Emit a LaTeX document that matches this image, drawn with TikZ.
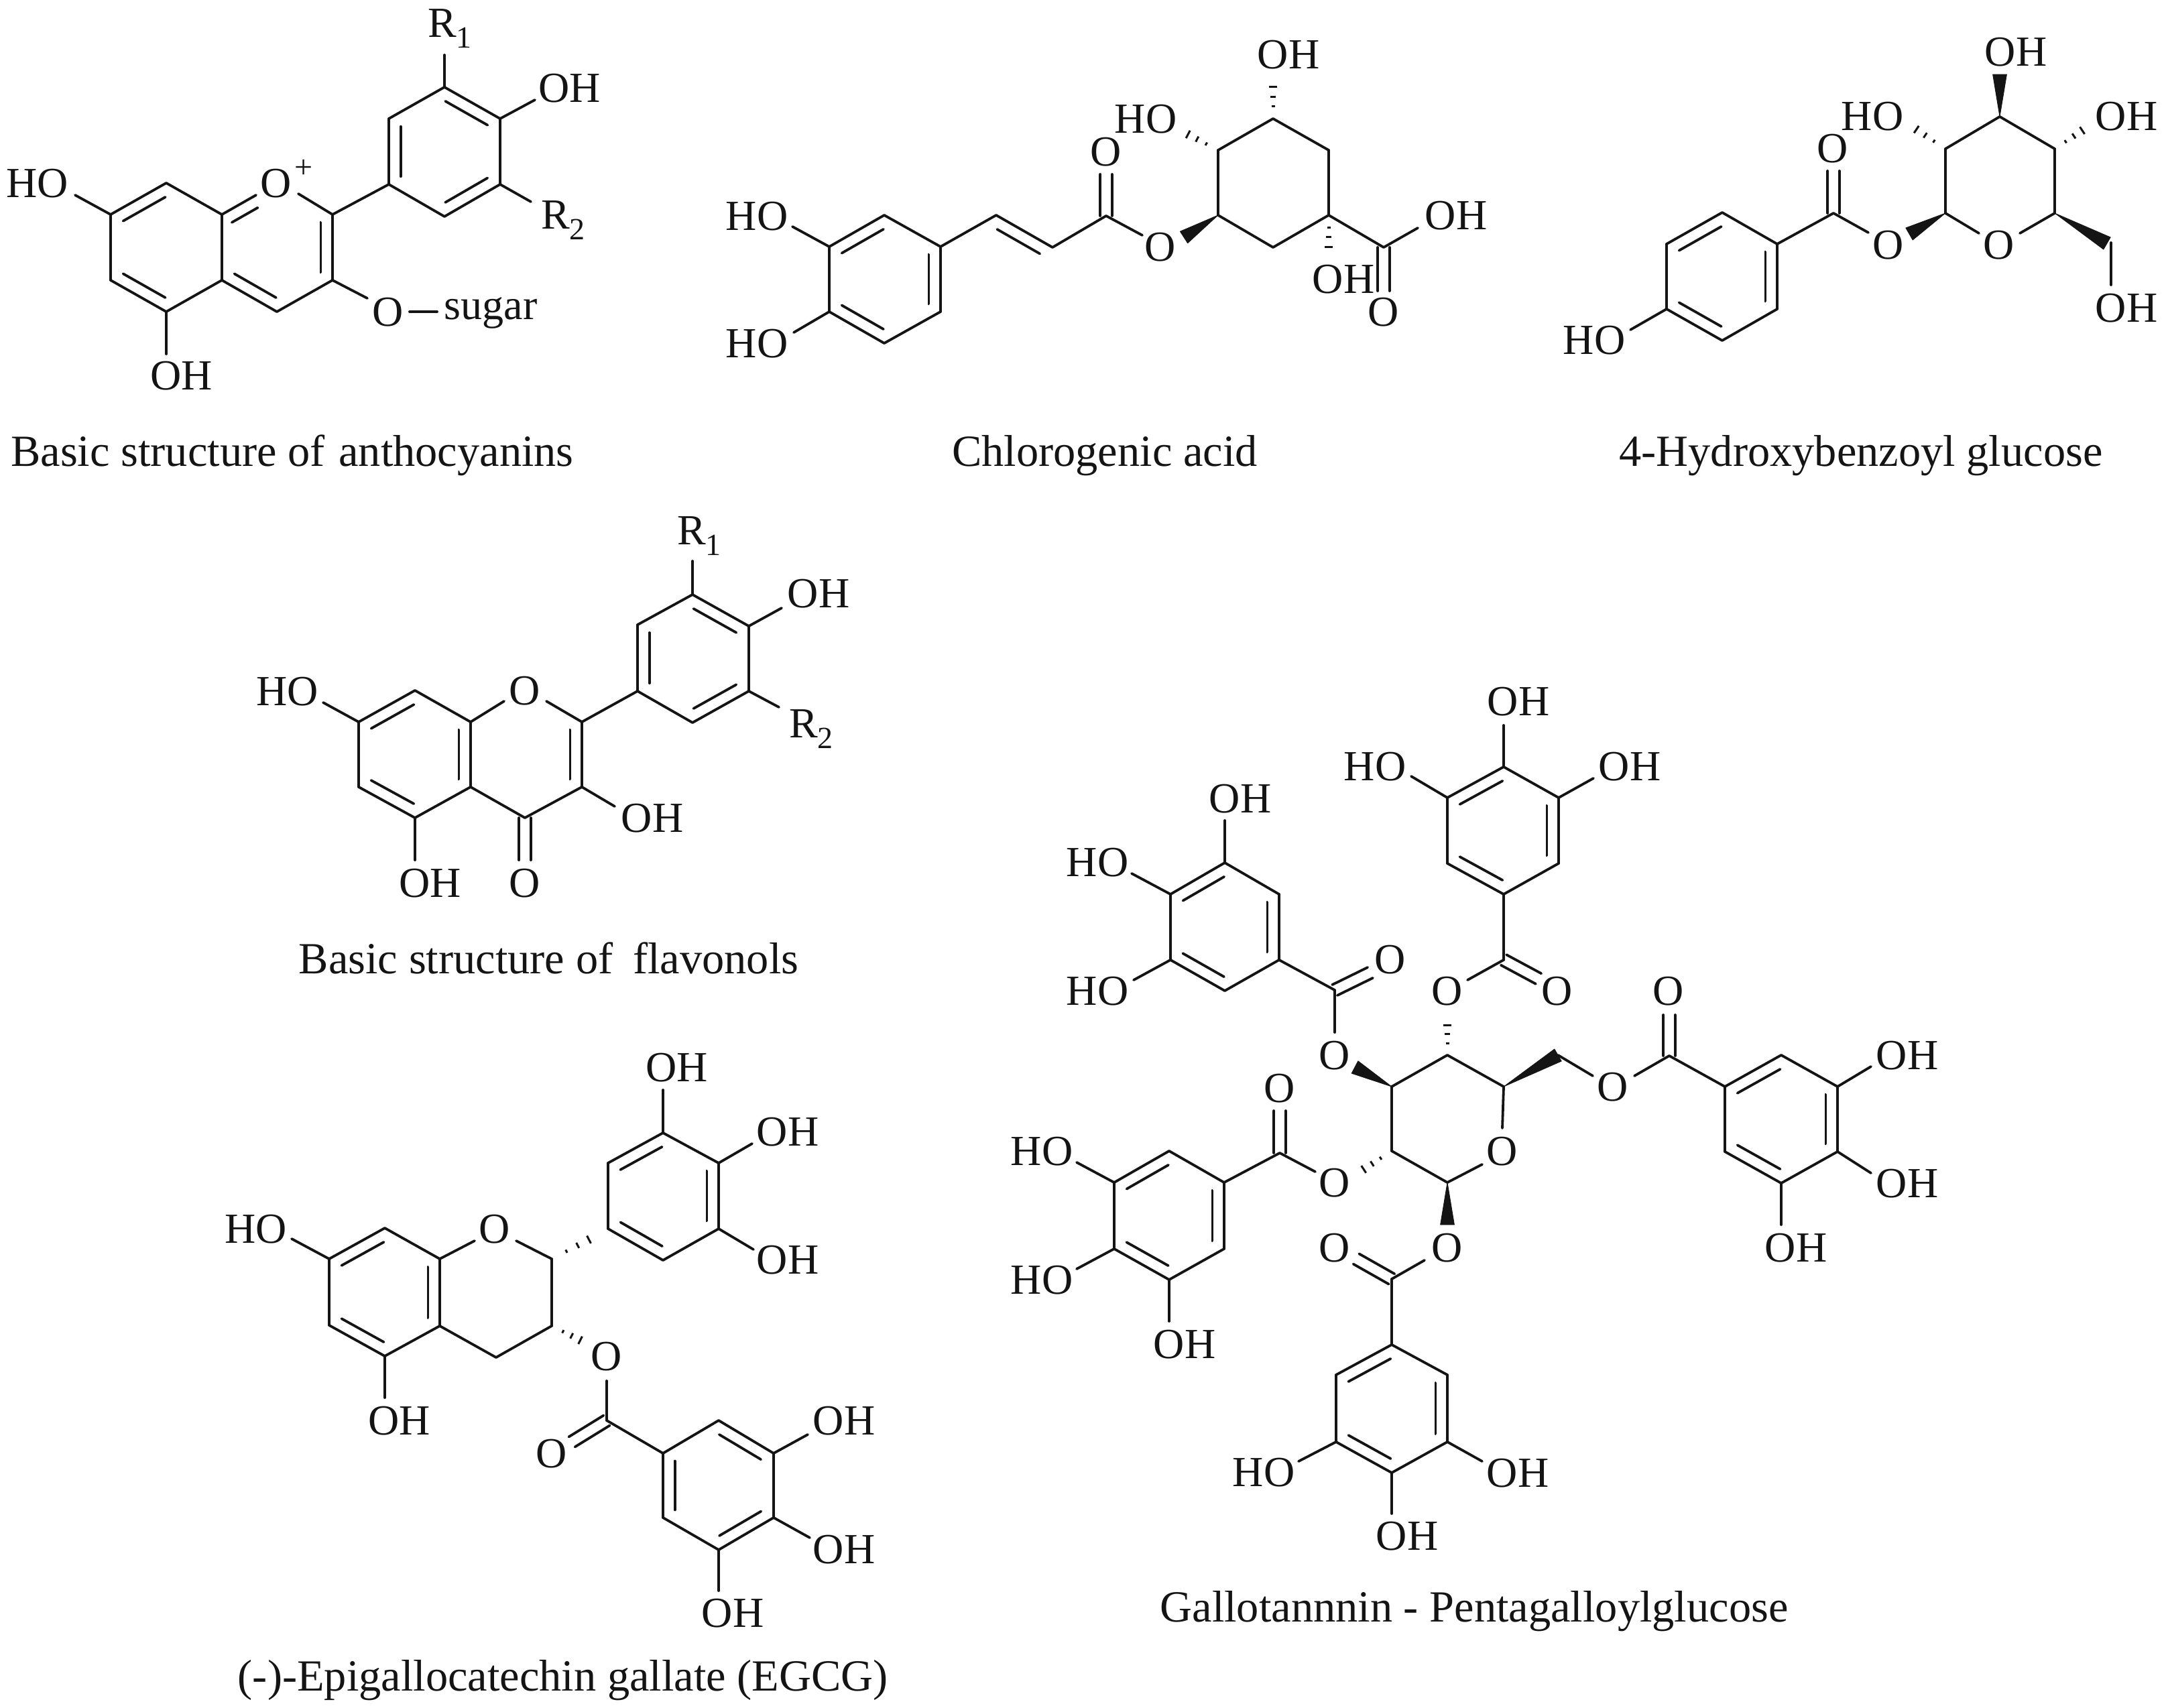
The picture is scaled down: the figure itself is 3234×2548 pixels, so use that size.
\documentclass[tikz,border=0pt]{standalone}
\usepackage{fontspec}
\setmainfont{Liberation Serif}
\usetikzlibrary{calc}
\definecolor{ink}{gray}{0.08}
\tikzset{
 bond/.style={draw=ink,line width=0.95pt,line cap=round,line join=round},
 hashline/.style={draw=ink,line width=0.75pt},
 wedgefill/.style={fill=ink,draw=ink,line width=0.2pt,line join=round},
 atomlabel/.style={anchor=base,inner sep=0pt,outer sep=0pt,yshift=-5.3pt,text=ink,font=\fontsize{16}{18}\selectfont},
 captionlabel/.style={anchor=base,inner sep=0pt,outer sep=0pt,yshift=-5.5pt,text=ink,font=\fontsize{16.6}{19}\selectfont},
}
\newcommand{\kc}[3]{\coordinate (#1) at (#2,#3);}
\newcommand{\kl}[4]{\node[atomlabel] (#1) at (#2,#3) {#4};}
\newcommand{\ks}[2]{\draw[bond] (#1) -- (#2);}
\newcommand{\kt}[6]{\coordinate (#1end) at (#2,#3);\draw[bond] (#1) -- (#1end);\node[atomlabel] (#1lab) at (#4,#5) {#6};}
\newcommand{\kd}[2]{\draw[bond] (#1) -- (#2);\draw[bond] ($(#1)!.12!(#2)!4.4pt!90:(#2)$) -- ($(#2)!.12!(#1)!4.4pt!-90:(#1)$);}
\newcommand{\ke}[2]{\draw[bond] ($(#1)!2.2pt!90:(#2)$) -- ($(#2)!2.2pt!-90:(#1)$);\draw[bond] ($(#1)!2.2pt!-90:(#2)$) -- ($(#2)!2.2pt!90:(#1)$);}
\newcommand{\kw}[2]{\fill[wedgefill] (#1) -- ($(#2)!2.6pt!90:(#1)$) -- ($(#2)!2.6pt!-90:(#1)$) -- cycle;}
\newcommand{\kh}[2]{\foreach \t in {.3,.53,.76,1}{\pgfmathsetmacro{\w}{\t*2.1}\draw[hashline] ($(#1)!\t!(#2)!\w pt!90:(#2)$) -- ($(#1)!\t!(#2)!\w pt!-90:(#2)$);}}
\newcommand{\subn}[1]{\raisebox{-4pt}{\fontsize{11.5}{12}\selectfont #1}}
\begin{document}
\begin{tikzpicture}[x=0.25pt,y=-0.25pt]
\useasboundingbox (0,0) rectangle (3234,2548);
\fill[white] (0,0) rectangle (3234,2548);

% ---------- Anthocyanins
\kc{A7}{165}{320}\kc{A8}{248}{273}\kc{A9}{331}{320}\kc{A2}{496}{320}\kc{A3}{496}{418}
\kc{A4}{413}{465}\kc{A10}{331}{418}\kc{A5}{248}{465}\kc{A6}{165}{418}
\kc{Ab1}{580}{275}\kc{Ab2}{580}{177}\kc{Ab3}{663}{130}\kc{Ab4}{746}{177}\kc{Ab5}{746}{275}\kc{Ab6}{663}{323}
\kc{AOa}{382}{291}\kc{AOb}{445}{289}
\kl{AO}{412}{273}{O}
\node[text=ink,inner sep=0pt,font=\fontsize{12}{12}\selectfont] (Aplus) at (453,252) {+};
\kd{A8}{A7}\ks{A7}{A6}\kd{A6}{A5}\ks{A5}{A10}\ks{A10}{A9}\ks{A9}{A8}
\kd{AOa}{A9}\ks{AOb}{A2}\kd{A3}{A2}\ks{A4}{A3}\kd{A10}{A4}
\ks{A2}{Ab1}\kd{Ab2}{Ab1}\ks{Ab1}{Ab6}\kd{Ab6}{Ab5}\ks{Ab5}{Ab4}\kd{Ab4}{Ab3}\ks{Ab3}{Ab2}
\kt{A7}{112}{291}{56}{273}{HO}
\kt{A5}{248}{528}{270.5}{560}{OH}
\kt{A3}{548}{445}{579}{465}{O}
\kc{ASa}{611}{465}\kc{ASb}{652}{465}\ks{ASa}{ASb}
\kl{Asugar}{732}{455}{sugar}
\kt{Ab3}{663}{82}{671}{34}{R\subn{1}}
\kt{Ab4}{798}{149}{850}{131}{OH}
\kt{Ab5}{792}{301}{840}{320}{R\subn{2}}
\node[captionlabel] (Acap) at (436,673) {Basic structure of\hspace{.06em} anthocyanins};

% ---------- Chlorogenic acid
\kc{Ba1}{1403}{368}\kc{Ba2}{1319}{321}\kc{Ba3}{1237}{368}\kc{Ba4}{1237}{465}\kc{Ba5}{1319}{512}\kc{Ba6}{1403}{465}
\kd{Ba2}{Ba3}\ks{Ba3}{Ba4}\kd{Ba4}{Ba5}\ks{Ba5}{Ba6}\kd{Ba6}{Ba1}\ks{Ba1}{Ba2}
\kt{Ba3}{1182}{338}{1129}{322}{HO}
\kt{Ba4}{1184}{496}{1129}{512}{HO}
\kc{Bv1}{1486}{321}\kc{Bv2}{1570}{369}\kc{Bc}{1650}{322}
\ks{Ba1}{Bv1}\kd{Bv2}{Bv1}\ks{Bv2}{Bc}
\kc{Bce}{1650}{260}\ke{Bc}{Bce}\kl{BcO}{1650}{226}{O}
\kt{Bc}{1704}{351}{1731}{368}{O}
\kc{BQ1}{1817}{321}\kc{BQ2}{1817}{224}\kc{BQ3}{1899}{177}\kc{BQ4}{1982}{224}\kc{BQ5}{1982}{321}\kc{BQ6}{1899}{369}
\ks{BQ1}{BQ2}\ks{BQ2}{BQ3}\ks{BQ3}{BQ4}\ks{BQ4}{BQ5}\ks{BQ5}{BQ6}\ks{BQ6}{BQ1}
\kc{BWb}{1766}{354}\kw{BQ1}{BWb}
\kc{BH3}{1899}{115}\kh{BQ3}{BH3}\kl{BOH3}{1922}{81}{OH}
\kc{BH2}{1758}{193}\kh{BQ2}{BH2}\kl{BOH2}{1709}{177}{HO}
\kc{BH5}{1982}{383}\kh{BQ5}{BH5}\kl{BOH5}{2004}{416}{OH}
\kc{BC}{2064}{369}\ks{BQ5}{BC}
\kc{BCe}{2064}{434}\ke{BC}{BCe}\kl{BCO}{2064}{465}{O}
\kt{BC}{2115}{340}{2172}{321}{OH}
\node[captionlabel] (Bcap) at (1648,673) {Chlorogenic acid};

% ---------- 4-Hydroxybenzoyl glucose
\kc{Cp1}{2651}{364}\kc{Cp2}{2569}{317}\kc{Cp3}{2486}{364}\kc{Cp4}{2486}{461}\kc{Cp5}{2569}{508}\kc{Cp6}{2651}{461}
\kd{Cp2}{Cp3}\ks{Cp3}{Cp4}\kd{Cp4}{Cp5}\ks{Cp5}{Cp6}\kd{Cp6}{Cp1}\ks{Cp1}{Cp2}
\kt{Cp4}{2432}{492}{2378}{507}{HO}
\kc{Cc}{2735}{318}\ks{Cp1}{Cc}
\kc{Cce}{2735}{255}\ke{Cc}{Cce}\kl{CcO}{2734}{221}{O}
\kt{Cc}{2787}{347}{2817}{365}{O}
\kc{CG1}{2902}{318}\kc{CG2}{2902}{222}\kc{CG3}{2983}{174}\kc{CG4}{3065}{222}\kc{CG5}{3065}{318}
\kc{CWo}{2848}{349}\kw{CG1}{CWo}
\ks{CG1}{CG2}\ks{CG2}{CG3}\ks{CG3}{CG4}\ks{CG4}{CG5}
\kc{COa}{2952}{348}\kc{COb}{3013}{348}\ks{CG1}{COa}\ks{COb}{CG5}\kl{CRO}{2982}{365}{O}
\kc{CW3}{2983}{111}\kw{CG3}{CW3}\kl{COH3}{3007}{77}{OH}
\kc{CH2}{2845}{184}\kh{CG2}{CH2}\kl{COH2}{2793}{173}{HO}
\kc{CH4}{3119}{186}\kh{CG4}{CH4}\kl{COH4}{3172}{173}{OH}
\kc{CW5}{3143}{363}\kw{CG5}{CW5}
\kc{CCH}{3149}{362}\kt{CCH}{3149}{425}{3172}{459}{OH}
\node[captionlabel] (Ccap) at (2776,673) {4-Hydroxybenzoyl glucose};

% ---------- Flavonols
\kc{D7}{535}{1077}\kc{D8}{619}{1030}\kc{D9}{702}{1077}\kc{D2}{868}{1077}\kc{D3}{868}{1174}
\kc{D4}{783}{1220}\kc{D10}{702}{1174}\kc{D5}{619}{1220}\kc{D6}{535}{1174}
\kc{DOa}{752}{1046}\kc{DOb}{815}{1046}\kl{DO}{783}{1030}{O}
\kd{D8}{D7}\ks{D7}{D6}\kd{D6}{D5}\ks{D5}{D10}\kd{D10}{D9}\ks{D9}{D8}
\ks{D9}{DOa}\ks{DOb}{D2}\kd{D3}{D2}\ks{D4}{D3}\ks{D10}{D4}
\kt{D7}{482}{1048}{429}{1031}{HO}
\kt{D3}{917}{1203}{973}{1220}{OH}
\kt{D5}{619}{1283}{642}{1317}{OH}
\kc{D4e}{783}{1283}\ke{D4}{D4e}\kl{D4O}{783}{1317}{O}
\kc{Db1}{951}{1031}\kc{Db2}{951}{932}\kc{Db3}{1033}{887}\kc{Db4}{1117}{934}\kc{Db5}{1117}{1031}\kc{Db6}{1033}{1078}
\ks{D2}{Db1}\kd{Db2}{Db1}\ks{Db1}{Db6}\kd{Db6}{Db5}\ks{Db5}{Db4}\kd{Db4}{Db3}\ks{Db3}{Db2}
\kt{Db3}{1033}{837}{1043}{791}{R\subn{1}}
\kt{Db4}{1166}{907}{1221}{885}{OH}
\kt{Db5}{1162}{1055}{1210}{1079}{R\subn{2}}
\node[captionlabel] (Dcap) at (818.6,1430) {Basic structure of\hspace{.2em} flavonols};

% ---------- EGCG
\kc{E7}{491}{1878}\kc{E8}{574}{1832}\kc{E9}{656}{1878}\kc{E2}{823}{1878}\kc{E3}{823}{1978}
\kc{E4}{740}{2025}\kc{E10}{656}{1978}\kc{E5}{574}{2023}\kc{E6}{491}{1977}
\kc{EOa}{708}{1851}\kc{EOb}{770}{1851}\kl{EO}{738}{1833}{O}
\kd{E8}{E7}\ks{E7}{E6}\kd{E6}{E5}\ks{E5}{E10}\kd{E10}{E9}\ks{E9}{E8}
\ks{E9}{EOa}\ks{EOb}{E2}\ks{E2}{E3}\ks{E3}{E4}\ks{E4}{E10}
\kt{E7}{435}{1848}{382}{1833}{HO}
\kt{E5}{574}{2085}{596}{2119}{OH}
\kc{EHo}{879}{2006}\kh{E3}{EHo}\kl{EOe}{905}{2023}{O}
\kc{EOc}{905}{2060}\kc{Ec}{905}{2119}\ks{EOc}{Ec}
\kc{Ece}{853}{2151}\ke{Ec}{Ece}\kl{EcO}{823}{2168}{O}
\kc{Eg1}{989}{2168}\kc{Eg2}{1072}{2119}\kc{Eg3}{1154}{2168}\kc{Eg4}{1154}{2264}\kc{Eg5}{1072}{2312}\kc{Eg6}{989}{2264}
\ks{Ec}{Eg1}\ks{Eg2}{Eg1}\kd{Eg1}{Eg6}\ks{Eg6}{Eg5}\kd{Eg5}{Eg4}\ks{Eg4}{Eg3}\kd{Eg3}{Eg2}
\kt{Eg3}{1205}{2140}{1259}{2119}{OH}
\kt{Eg4}{1208}{2294}{1259}{2311}{OH}
\kt{Eg5}{1072}{2373}{1093}{2406}{OH}
\kc{Eb1}{907}{1833}\kc{Eb2}{907}{1735}\kc{Eb3}{989}{1690}\kc{Eb4}{1072}{1735}\kc{Eb5}{1072}{1833}\kc{Eb6}{989}{1880}
\kc{EHb}{896}{1840}\kh{E2}{EHb}
\kd{Eb3}{Eb2}\ks{Eb2}{Eb1}\kd{Eb1}{Eb6}\ks{Eb6}{Eb5}\kd{Eb5}{Eb4}\ks{Eb4}{Eb3}
\kt{Eb3}{989}{1626}{1010}{1592}{OH}
\kt{Eb4}{1122}{1706}{1175}{1688}{OH}
\kt{Eb5}{1124}{1864}{1175}{1879}{OH}
\node[captionlabel] (Ecap) at (839.7,2500) {(-)-Epigallocatechin gallate (EGCG)};

% ---------- Pentagalloylglucose: sugar ring
\kc{FS1}{2159}{1764}\kc{FS2}{2076}{1717}\kc{FS3}{2076}{1621}\kc{FS4}{2159}{1574}\kc{FS5}{2243}{1621}
\kc{FOa}{2241}{1683}\kc{FOb}{2211}{1737}\kl{FO}{2241}{1717}{O}
\ks{FS5}{FOa}\ks{FOb}{FS1}\ks{FS1}{FS2}\ks{FS2}{FS3}\ks{FS3}{FS4}\ks{FS4}{FS5}
% top galloyl
\kc{FT1}{2243}{1334}\kc{FT2}{2325}{1288}\kc{FT3}{2325}{1190}\kc{FT4}{2243}{1144}\kc{FT5}{2159}{1190}\kc{FT6}{2159}{1288}
\kd{FT4}{FT5}\ks{FT5}{FT6}\kd{FT6}{FT1}\ks{FT1}{FT2}\kd{FT2}{FT3}\ks{FT3}{FT4}
\kt{FT4}{2243}{1082}{2265}{1046}{OH}
\kt{FT5}{2105}{1158}{2051}{1143}{HO}
\kt{FT3}{2377}{1161}{2431}{1143}{OH}
\kc{FTc}{2243}{1432}\ks{FT1}{FTc}
\kc{FTe}{2295}{1460}\ke{FTc}{FTe}\kl{FTO}{2323}{1478}{O}
\kt{FTc}{2189}{1462}{2159}{1478}{O}
\kc{FHt}{2159}{1515}\kh{FS4}{FHt}
% left-top galloyl
\kc{FL1}{1908}{1432}\kc{FL2}{1908}{1334}\kc{FL3}{1827}{1287}\kc{FL4}{1746}{1334}\kc{FL5}{1746}{1432}\kc{FL6}{1827}{1478}
\kd{FL3}{FL4}\ks{FL4}{FL5}\kd{FL5}{FL6}\ks{FL6}{FL1}\kd{FL1}{FL2}\ks{FL2}{FL3}
\kt{FL3}{1827}{1224}{1850}{1191}{OH}
\kt{FL4}{1688}{1303}{1637}{1286}{HO}
\kt{FL5}{1691}{1462}{1637}{1478}{HO}
\kc{FLc}{1991}{1477}\ks{FL1}{FLc}
\kc{FLe}{2044}{1451}\ke{FLc}{FLe}\kl{FLO}{2074}{1431}{O}
\kt{FLc}{1991}{1540}{1991}{1574}{O}
\kc{FWl}{2021}{1592}\kw{FS3}{FWl}
% right galloyl
\kc{FCH}{2324}{1574}\kw{FS5}{FCH}
\kt{FCH}{2376}{1605}{2406}{1621}{O}
\kc{FRa}{2438}{1605}\kc{FRc}{2490}{1575}\ks{FRa}{FRc}
\kc{FRe}{2490}{1514}\ke{FRc}{FRe}\kl{FRO}{2489}{1478}{O}
\kc{FR1}{2573}{1621}\kc{FR2}{2657}{1574}\kc{FR3}{2741}{1621}\kc{FR4}{2741}{1718}\kc{FR5}{2657}{1765}\kc{FR6}{2573}{1718}
\ks{FRc}{FR1}\kd{FR2}{FR1}\ks{FR1}{FR6}\kd{FR6}{FR5}\ks{FR5}{FR4}\kd{FR4}{FR3}\ks{FR3}{FR2}
\kt{FR3}{2791}{1591}{2845}{1574}{OH}
\kt{FR4}{2791}{1750}{2845}{1765}{OH}
\kt{FR5}{2657}{1827}{2679}{1861}{OH}
% bottom galloyl
\kc{FWb}{2159}{1827}\kw{FS1}{FWb}\kl{FBOe}{2159}{1861}{O}
\kc{FBa}{2125}{1880}\kc{FBc}{2076}{1908}\ks{FBa}{FBc}
\kc{FBe}{2023}{1878}\ke{FBc}{FBe}\kl{FBO}{1991}{1861}{O}
\kc{FD1}{2076}{2006}\kc{FD2}{2159}{2051}\kc{FD3}{2159}{2151}\kc{FD4}{2076}{2197}\kc{FD5}{1993}{2151}\kc{FD6}{1993}{2051}
\ks{FBc}{FD1}\kd{FD1}{FD6}\ks{FD6}{FD5}\kd{FD5}{FD4}\ks{FD4}{FD3}\kd{FD3}{FD2}\ks{FD2}{FD1}
\kt{FD3}{2211}{2180}{2264}{2197}{OH}
\kt{FD4}{2076}{2258}{2099}{2291}{OH}
\kt{FD5}{1937}{2180}{1885}{2196}{HO}
% left galloyl
\kc{FMc}{1909}{1720}\kc{FMe}{1909}{1657}\ke{FMc}{FMe}\kl{FMO}{1909}{1623}{O}
\kt{FMc}{1962}{1748}{1991}{1764}{O}
\kc{FHm}{2021}{1753}\kh{FS2}{FHm}
\kc{FM1}{1826}{1764}\kc{FM2}{1744}{1717}\kc{FM3}{1662}{1764}\kc{FM4}{1662}{1863}\kc{FM5}{1744}{1909}\kc{FM6}{1826}{1863}
\ks{FM1}{FMc}\kd{FM2}{FM3}\ks{FM3}{FM4}\kd{FM4}{FM5}\ks{FM5}{FM6}\kd{FM6}{FM1}\ks{FM1}{FM2}
\kt{FM3}{1606}{1734}{1554}{1717}{HO}
\kt{FM4}{1606}{1893}{1554}{1909}{HO}
\kt{FM5}{1744}{1971}{1767}{2005}{OH}
\node[captionlabel] (Fcap) at (2199,2397) {Gallotannnin - Pentagalloylglucose};
\end{tikzpicture}
\end{document}
